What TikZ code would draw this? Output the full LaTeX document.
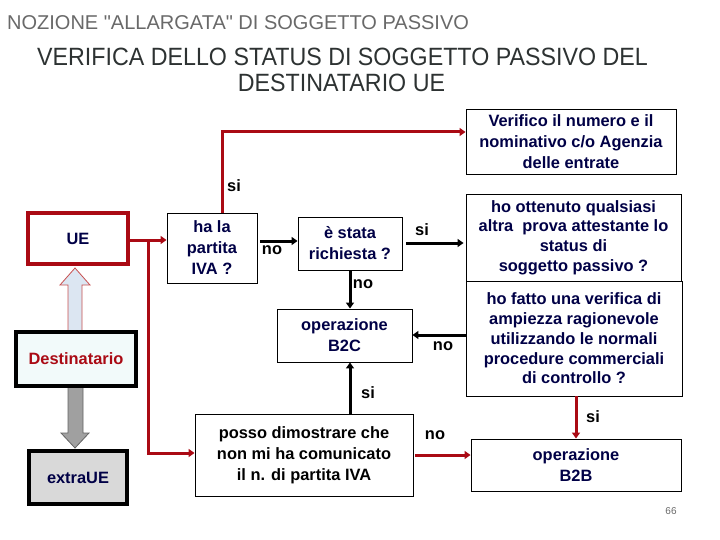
\documentclass[tikz,border=0pt]{standalone}
\usepackage{fontspec}
\setmainfont{Liberation Sans}[Ligatures=TeXOff]
\newfontfamily\subfont[FakeStretch=0.93]{Liberation Sans}
\usetikzlibrary{arrows.meta}
\definecolor{dred}{RGB}{170,10,20}
\definecolor{navy}{RGB}{0,0,70}
\definecolor{ttlgray}{RGB}{105,105,105}
\definecolor{subgray}{RGB}{45,50,50}
\definecolor{destfill}{RGB}{242,250,250}
\definecolor{extfill}{RGB}{217,217,217}
\definecolor{upfill}{RGB}{220,230,242}
\definecolor{upline}{RGB}{200,80,80}
\definecolor{dnfill}{RGB}{160,160,160}
\definecolor{dnline}{RGB}{100,100,100}
\begin{document}
\begin{tikzpicture}[x=1pt,y=-1pt,
  box/.style={draw=black, line width=0.9pt, fill=white, rectangle, inner sep=0pt,
    align=center, text=navy, font=\bfseries\fontsize{16.4}{21}\selectfont},
  densebox/.style={box, font=\bfseries\fontsize{16.4}{19.7}\selectfont},
  thickbox/.style={box, line width=4pt},
  lbl/.style={inner sep=0pt, text=black, font=\bfseries\fontsize{16.4}{20}\selectfont},
  blkarr/.style={draw=black, line width=3pt, -{Triangle[length=6pt,width=8pt]}},
  redarr/.style={draw=dred, line width=3pt, -{Triangle[length=6pt,width=8pt]}},
  redln/.style={draw=dred, line width=3pt}]
\useasboundingbox (0,0) rectangle (720,540);

% titles
\node[anchor=base west, inner sep=0pt, text=ttlgray, font=\fontsize{20}{24}\selectfont] (t1) at (7,29.3) {NOZIONE "ALLARGATA" DI SOGGETTO PASSIVO};
\node[anchor=base, inner sep=0pt, text=subgray, font=\subfont\fontsize{25}{28}\selectfont] (t2) at (342.5,65.7) {VERIFICA DELLO STATUS DI SOGGETTO PASSIVO DEL};
\node[anchor=base, inner sep=0pt, text=subgray, font=\subfont\fontsize{25}{28}\selectfont] (t3) at (341.5,92) {DESTINATARIO UE};

% block arrows
\draw[draw=upline, fill=upfill, line width=0.8pt] (68,332) -- (68,285) -- (60,285) -- (75,268) -- (90,285) -- (82,285) -- (82,332) -- cycle;
\draw[draw=dnline, fill=dnfill, line width=0.8pt] (68,386) -- (68,433) -- (61,433) -- (75,448) -- (89,433) -- (83,433) -- (83,386) -- cycle;

% boxes
\node[box, minimum width=210pt, minimum height=65pt] (verif) at (571,141.5) {Verifico il numero e il\\nominativo c/o Agenzia\\delle entrate};
\node[densebox, minimum width=215pt, minimum height=87pt] (ottenuto) at (573.5,237.5) {ho ottenuto qualsiasi\\altra\ \ prova attestante lo\\status di\\soggetto passivo ?};
\node[densebox, minimum width=216pt, minimum height=115pt] (fatto) at (574,338.5) {ho fatto una verifica di\\ampiezza ragionevole\\utilizzando le normali\\procedure commerciali\\di controllo ?};
\node[thickbox, draw=dred, minimum width=100pt, minimum height=51pt] (UE) at (78,238.5) {UE};
\node[box, minimum width=90pt, minimum height=70pt] (hala) at (212,248) {ha la\\partita\\IVA ?};
\node[box, minimum width=104pt, minimum height=53pt] (stata) at (350,243.5) {è stata\\richiesta ?};
\node[box, minimum width=135pt, minimum height=53pt] (b2c) at (344.5,335.5) {operazione\\B2C};
\node[thickbox, fill=destfill, text=dred, minimum width=120pt, minimum height=54pt] (dest) at (76,359) {Destinatario};
\node[thickbox, fill=extfill, minimum width=98pt, minimum height=53pt] (extra) at (78,477.5) {extraUE};
\node[box, text=black, minimum width=218pt, minimum height=82pt] (posso) at (304,455) {posso dimostrare che\\non mi ha comunicato\\il n. di partita IVA};
\node[box, minimum width=210pt, minimum height=52pt] (b2b) at (576,465) {operazione\\B2B};

% connectors
\coordinate (r0) at ([yshift=-1.5pt]UE.east);
\draw[redarr] (r0) -- (r0 -| hala.west);
\coordinate (jn) at (148,240);
\draw[redarr] (jn) |- ([yshift=2pt]posso.west);
\draw[redarr] ([xshift=10pt]hala.north) |- ([yshift=9.5pt]verif.west);
\draw[blkarr] ([xshift=3pt,yshift=7pt]hala.east) -- ([yshift=2.5pt]stata.west);
\draw[blkarr] ([xshift=4pt,yshift=0.5pt]stata.east) -- ([xshift=-2pt,yshift=-5.5pt]ottenuto.west);
\draw[blkarr] (stata.south) -- ([xshift=5.5pt]b2c.north);
\draw[blkarr] ([yshift=3.5pt]fatto.west) -- ([yshift=0.5pt]b2c.east);
\draw[blkarr] ([xshift=46pt]posso.north) -- ([xshift=5.5pt]b2c.south);
\draw[redarr] ([xshift=2pt]fatto.south) -- (b2b.north);
\draw[redarr] ([xshift=2pt]posso.east) -- ([yshift=10pt]b2b.west);

% labels
\node[lbl] (l1) at (234,186) {si};
\node[lbl] (l2) at (272,250) {no};
\node[lbl] (l3) at (422,230) {si};
\node[lbl] (l4) at (363,284) {no};
\node[lbl] (l5) at (443,346) {no};
\node[lbl] (l6) at (368,393) {si};
\node[lbl] (l7) at (593,417) {si};
\node[lbl] (l8) at (435,435) {no};

\node[inner sep=0pt, text=ttlgray, font=\fontsize{10}{12}\selectfont] (pg) at (671,511) {66};
\end{tikzpicture}
\end{document}
